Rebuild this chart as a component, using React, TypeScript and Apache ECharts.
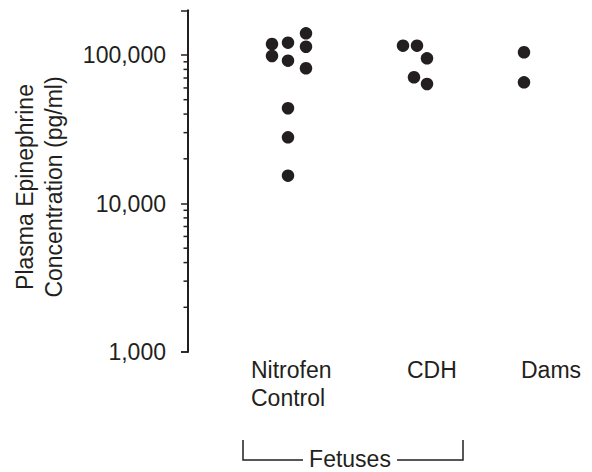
import React, { useEffect, useRef } from "react";
import * as echarts from "echarts";

// Category labels and their anchor positions along the horizontal scale
const groupLabels = ["Nitrofen\nControl", "CDH", "Dams"];
const groupLabelX = [81, 237, 351];

// Points: horizontal position (scale units) and epinephrine (pg/ml)
const nitrofenX = [102, 118, 136, 102, 118, 136, 136, 118, 118, 118];
const nitrofenY = [118600, 121000, 140000, 98500, 91600, 113700, 81400, 43800, 27900, 15400];
const cdhX = [233, 247, 257, 244, 257];
const cdhY = [115500, 115500, 95000, 70800, 63800];
const damsX = [354, 354];
const damsY = [104300, 65500];

// y axis: major (labelled) and minor tick values
const yMajorTicks = [1000, 10000, 100000];
const yMinorTicks = [
  2000, 3000, 4000, 5000, 6000, 7000, 8000, 9000,
  20000, 30000, 40000, 50000, 60000, 70000, 80000, 90000,
];
const yAxisAtX = 18; // where the y axis sits on the horizontal scale

const INK = "#231f20";
const FONT = "'Liberation Sans', Arial, Helvetica, sans-serif";
const FS = 23;
const MINOR_LEN = 4.5;

const fmt = (v: number) => String(Math.round(v)).replace(/\B(?=(\d{3})+(?!\d))/g, ",");
const zip = (xs: number[], ys: number[]) => xs.map((x, i) => [x, ys[i]]);

export default function App() {
  const ref = useRef<HTMLDivElement>(null);
  useEffect(() => {
    if (!ref.current) return;
    const chart = echarts.init(ref.current, null, { renderer: "svg" });
    chart.setOption({
      animation: false,
      backgroundColor: "#ffffff",
      grid: { left: 170, right: 4, top: 10.3, bottom: 120 },
      xAxis: {
        type: "value",
        min: 0,
        max: 418,
        axisLine: { show: false },
        axisTick: { show: false },
        splitLine: { show: false },
        axisLabel: {
          customValues: groupLabelX,
          formatter: (v: number) => groupLabels[groupLabelX.indexOf(v)] ?? "",
          align: "left",
          verticalAlign: "top",
          fontSize: FS,
          lineHeight: 28,
          color: INK,
          fontFamily: FONT,
          margin: 4,
        },
      },
      yAxis: {
        type: "log",
        logBase: 10,
        min: 1000,
        max: 200000,
        offset: -yAxisAtX,
        splitLine: { show: false },
        axisLine: { show: true, lineStyle: { color: INK, width: 2 } },
        axisTick: { show: true, length: 7, lineStyle: { color: INK, width: 1.5 } },
        axisLabel: {
          customValues: yMajorTicks,
          formatter: (v: number) => fmt(v),
          fontSize: FS,
          color: INK,
          fontFamily: FONT,
          margin: 22,
        },
      },
      series: [
        ...[
          { name: "Nitrofen Control", data: zip(nitrofenX, nitrofenY) },
          { name: "CDH", data: zip(cdhX, cdhY) },
          { name: "Dams", data: zip(damsX, damsY) },
        ].map((s) => ({
          ...s,
          type: "scatter",
          symbol: "circle",
          symbolSize: 12.5,
          itemStyle: { color: INK, opacity: 1 },
          emphasis: { disabled: true },
        })),
        {
          name: "minor ticks",
          type: "scatter",
          silent: true,
          clip: false,
          data: yMinorTicks.map((v) => [yAxisAtX - MINOR_LEN / 2, v]),
          symbol: "rect",
          symbolSize: [MINOR_LEN, 1.5],
          itemStyle: { color: INK, opacity: 1 },
          emphasis: { disabled: true },
        },
      ],
      graphic: [
        {
          type: "text",
          x: 39,
          y: 187,
          rotation: Math.PI / 2,
          style: {
            text: "Plasma Epinephrine\nConcentration (pg/ml)",
            fontSize: FS,
            lineHeight: 29,
            fill: INK,
            fontFamily: FONT,
            align: "center",
            verticalAlign: "middle",
          },
        },
        {
          type: "polyline",
          shape: { points: [[243, 440], [243, 460], [303, 460]] },
          style: { stroke: INK, lineWidth: 1.5, fill: null },
        },
        {
          type: "polyline",
          shape: { points: [[397, 460], [463, 460], [463, 440]] },
          style: { stroke: INK, lineWidth: 1.5, fill: null },
        },
        {
          type: "text",
          x: 350,
          y: 459,
          style: {
            text: "Fetuses",
            fontSize: FS,
            fill: INK,
            fontFamily: FONT,
            align: "center",
            verticalAlign: "middle",
          },
        },
      ],
    });
    return () => chart.dispose();
  }, []);
  return (
    <div
      ref={ref}
      style={{ position: "fixed", left: 0, top: 0, width: 592, height: 472, background: "#fff" }}
    />
  );
}
